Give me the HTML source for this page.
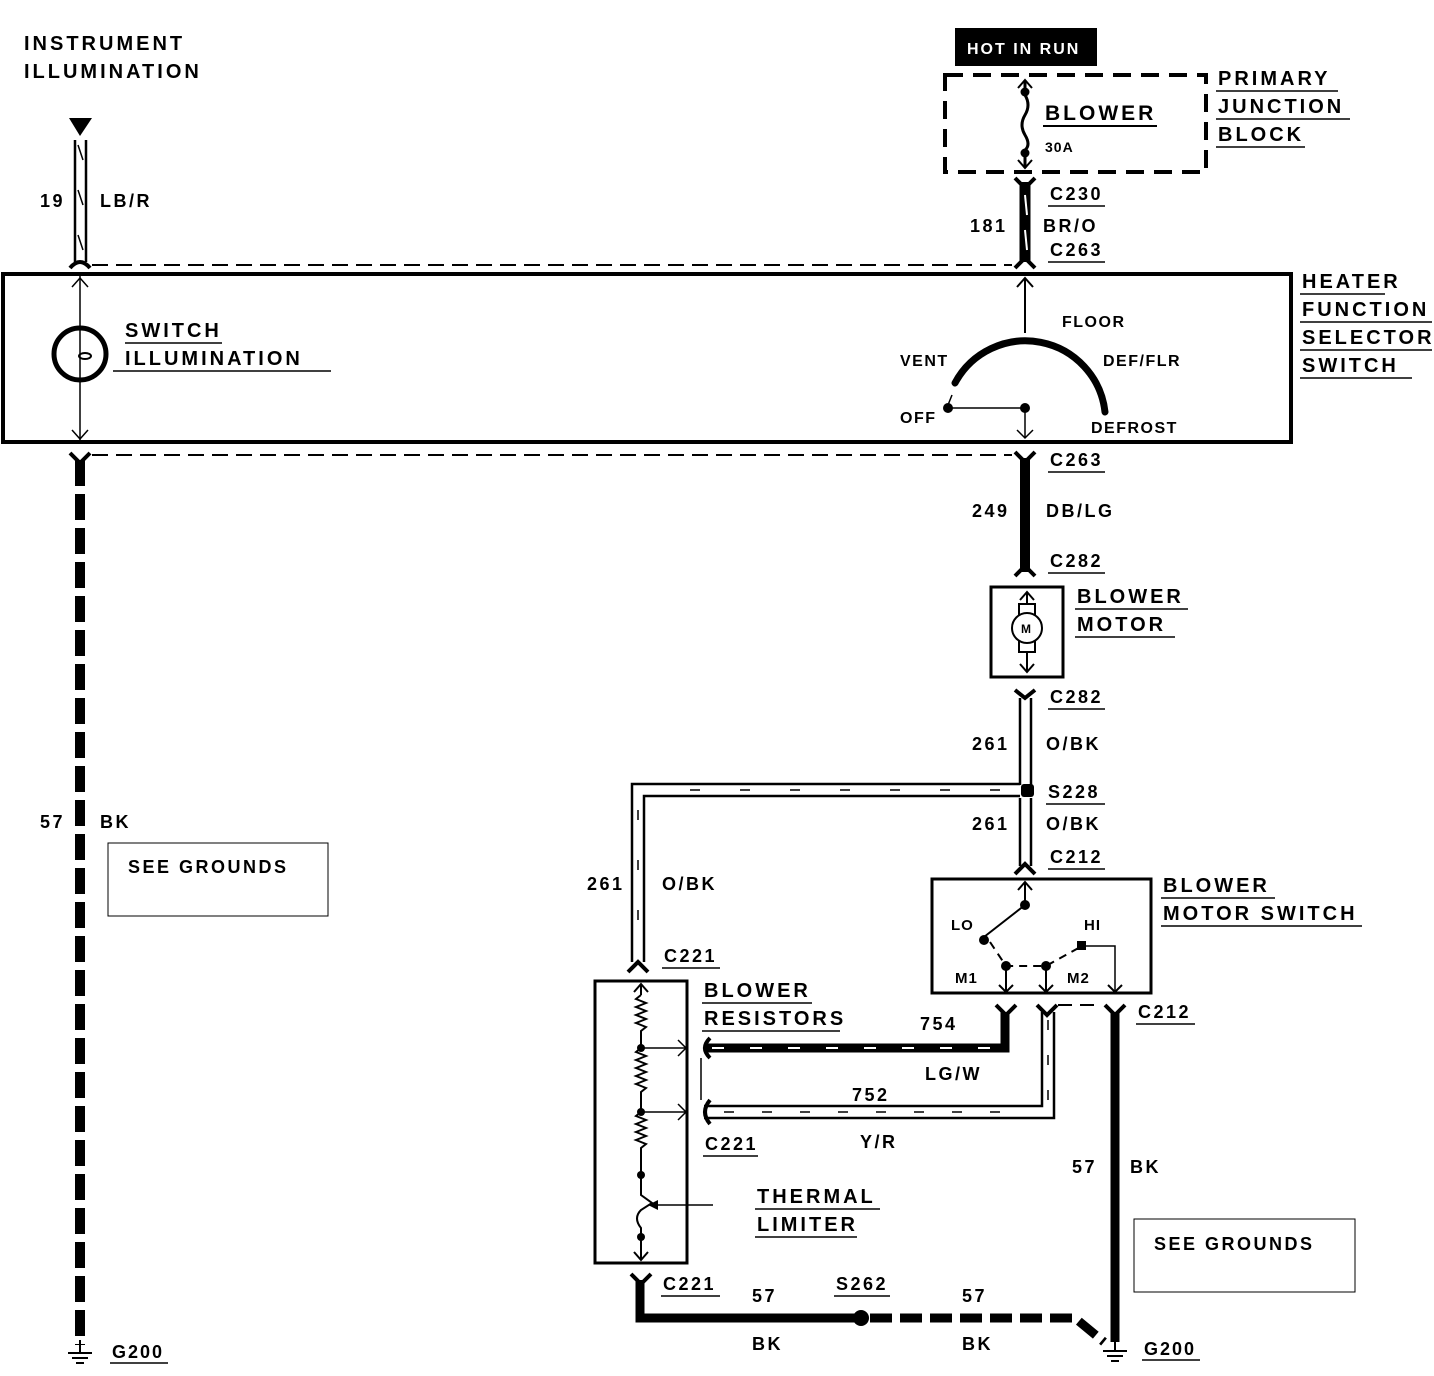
<!DOCTYPE html>
<html><head><style>
html,body{margin:0;padding:0;background:#fff}
svg{display:block}
text{font-family:"Liberation Sans",Arial,sans-serif;font-weight:bold;fill:#000}
</style></head><body>
<svg width="1434" height="1376" viewBox="0 0 1434 1376" xmlns="http://www.w3.org/2000/svg">
<g font-size="20" letter-spacing="3">
<text x="24" y="50">INSTRUMENT</text>
<text x="24" y="78">ILLUMINATION</text>
</g>
<polygon points="69,118 92,118 80,136" fill="#000"/>
<g stroke="#000" stroke-width="2.5" fill="none">
<line x1="75" y1="140" x2="75" y2="262"/><line x1="86" y1="140" x2="86" y2="262"/>
<line x1="78" y1="145" x2="83" y2="160" stroke-width="1.5"/>
<line x1="78" y1="190" x2="83" y2="205" stroke-width="1.5"/>
<line x1="78" y1="235" x2="83" y2="250" stroke-width="1.5"/>
<path d="M70,268 Q80,256 90,268" stroke-width="4"/>
</g>
<text x="40" y="207" font-size="18" letter-spacing="2.5">19</text><text x="100" y="207" font-size="18" letter-spacing="2.5">LB/R</text>
<line x1="92" y1="265" x2="1012" y2="265" stroke="#000" stroke-width="2" stroke-dasharray="16,8"/>
<line x1="92" y1="455" x2="1012" y2="455" stroke="#000" stroke-width="2" stroke-dasharray="16,8"/>
<rect x="3" y="274" width="1288" height="168" fill="none" stroke="#000" stroke-width="4"/>
<g stroke="#000" fill="none">
<line x1="80" y1="276" x2="80" y2="440" stroke-width="1.5"/>
<path d="M72,287 L80,278 L88,287 M72,430 L80,439 L88,430" stroke-width="1.5"/>
<circle cx="80" cy="354" r="26" stroke-width="5"/>
<ellipse cx="85" cy="356" rx="6" ry="3" stroke-width="2"/>
</g>
<g font-size="20" letter-spacing="3">
<text x="125" y="337">SWITCH</text><text x="125" y="365">ILLUMINATION</text>
</g>
<line x1="125" y1="343" x2="222" y2="343" stroke="#000" stroke-width="1.5"/>
<line x1="113" y1="371" x2="331" y2="371" stroke="#000" stroke-width="1.5"/>
<path d="M70,453 L80,463 L90,453" stroke="#000" stroke-width="4" fill="none"/>
<line x1="80" y1="460" x2="80" y2="1345" stroke="#000" stroke-width="10" stroke-dasharray="26,8"/>
<text x="40" y="828" font-size="18" letter-spacing="2.5">57</text><text x="100" y="828" font-size="18" letter-spacing="2.5">BK</text>
<rect x="108" y="843" width="220" height="73" fill="none" stroke="#000" stroke-width="1"/>
<text x="128" y="873" font-size="18" font-weight="normal" letter-spacing="2.5">SEE GROUNDS</text>
<g stroke="#000" stroke-width="2"><line x1="80" y1="1340" x2="80" y2="1352"/><line x1="68" y1="1353" x2="92" y2="1353"/><line x1="72" y1="1358" x2="88" y2="1358"/><line x1="76" y1="1363" x2="84" y2="1363"/></g>
<text x="112" y="1358" font-size="18" font-weight="normal" letter-spacing="2">G200</text>
<line x1="110" y1="1363" x2="168" y2="1363" stroke="#000" stroke-width="1.5"/>
<rect x="955" y="28" width="142" height="38" fill="#000"/>
<text x="967" y="54" font-size="16" style="fill:#fff" font-weight="normal" letter-spacing="2">HOT IN RUN</text>
<rect x="945" y="75" width="261" height="97" fill="none" stroke="#000" stroke-width="4" stroke-dasharray="18,10"/>
<g stroke="#000" fill="none" stroke-width="3">
<line x1="1025" y1="80" x2="1025" y2="95"/>
<path d="M1025,95 q6,10 0,20 q-6,10 0,20 q6,10 0,15"/>
<line x1="1025" y1="150" x2="1025" y2="168"/>
<path d="M1018,88 L1025,80 L1032,88 M1018,160 L1025,168 L1032,160" stroke-width="2"/>
</g>
<circle cx="1025" cy="92" r="4.5"/><circle cx="1025" cy="153" r="4.5"/>
<text x="1045" y="120" font-size="21" letter-spacing="3">BLOWER</text>
<line x1="1043" y1="126" x2="1157" y2="126" stroke="#000" stroke-width="2"/>
<text x="1045" y="152" font-size="14" font-weight="normal" letter-spacing="1">30A</text>
<g font-size="20" letter-spacing="3">
<text x="1218" y="85">PRIMARY</text><text x="1218" y="113">JUNCTION</text><text x="1218" y="141">BLOCK</text>
<text x="1302" y="288">HEATER</text><text x="1302" y="316">FUNCTION</text><text x="1302" y="344">SELECTOR</text><text x="1302" y="372">SWITCH</text>
</g>
<g stroke="#000" stroke-width="1.5">
<line x1="1216" y1="91" x2="1338" y2="91"/><line x1="1216" y1="119" x2="1350" y2="119"/><line x1="1216" y1="147" x2="1305" y2="147"/>
<line x1="1300" y1="294" x2="1385" y2="294"/><line x1="1300" y1="322" x2="1432" y2="322"/><line x1="1300" y1="350" x2="1432" y2="350"/><line x1="1300" y1="378" x2="1412" y2="378"/>
</g>
<g stroke="#000" fill="none">
<line x1="1025" y1="182" x2="1025" y2="262" stroke-width="11"/>
<path d="M1015,178 L1025,188 L1035,178 M1015,268 L1025,258 L1035,268" stroke-width="4"/>
</g>
<line x1="1025" y1="195" x2="1027" y2="215" stroke="#fff" stroke-width="2"/>
<line x1="1025" y1="230" x2="1027" y2="250" stroke="#fff" stroke-width="2"/>
<g font-size="18" letter-spacing="2.5">
<text x="970" y="232">181</text><text x="1043" y="232">BR/O</text>
<text x="1050" y="200">C230</text><text x="1050" y="256">C263</text>
<text x="1050" y="466">C263</text><text x="972" y="517">249</text><text x="1046" y="517">DB/LG</text><text x="1050" y="567">C282</text>
<text x="1050" y="703">C282</text><text x="972" y="750">261</text><text x="1046" y="750">O/BK</text>
<text x="1048" y="798">S228</text><text x="972" y="830">261</text><text x="1046" y="830">O/BK</text><text x="1050" y="863">C212</text>
<text x="587" y="890">261</text><text x="662" y="890">O/BK</text><text x="664" y="962">C221</text>
<text x="920" y="1030">754</text><text x="925" y="1080">LG/W</text><text x="852" y="1101">752</text><text x="860" y="1148">Y/R</text><text x="705" y="1150">C221</text>
<text x="1138" y="1018">C212</text><text x="1072" y="1173">57</text><text x="1130" y="1173">BK</text>
<text x="663" y="1290">C221</text><text x="752" y="1302">57</text><text x="836" y="1290">S262</text><text x="962" y="1302">57</text>
<text x="752" y="1350">BK</text><text x="962" y="1350">BK</text>
</g>
<g stroke="#000" stroke-width="1.5">
<line x1="1048" y1="206" x2="1105" y2="206"/><line x1="1048" y1="262" x2="1105" y2="262"/>
<line x1="1048" y1="472" x2="1105" y2="472"/><line x1="1048" y1="573" x2="1105" y2="573"/>
<line x1="1048" y1="709" x2="1105" y2="709"/><line x1="1046" y1="804" x2="1105" y2="804"/><line x1="1048" y1="869" x2="1105" y2="869"/>
<line x1="662" y1="968" x2="720" y2="968"/><line x1="703" y1="1156" x2="758" y2="1156"/><line x1="1136" y1="1024" x2="1195" y2="1024"/>
<line x1="661" y1="1296" x2="720" y2="1296"/><line x1="834" y1="1296" x2="890" y2="1296"/>
<line x1="1142" y1="1360" x2="1200" y2="1360"/>
</g>
<g stroke="#000" fill="none">
<line x1="1025" y1="278" x2="1025" y2="333" stroke-width="2"/>
<path d="M1017,287 L1025,278 L1033,287" stroke-width="2"/>
<path d="M955,383 A80,80 0 0 1 1105,412" stroke-width="7" stroke-linecap="round"/>
<line x1="952" y1="395" x2="948" y2="405" stroke-width="1.5"/>
<line x1="948" y1="408" x2="1025" y2="408" stroke-width="1.5"/>
<line x1="1025" y1="408" x2="1025" y2="438" stroke-width="1.5"/>
<path d="M1017,430 L1025,438 L1033,430" stroke-width="1.5"/>
</g>
<circle cx="948" cy="408" r="5"/><circle cx="1025" cy="408" r="5"/>
<g font-size="16" letter-spacing="1.5">
<text x="1062" y="327">FLOOR</text><text x="900" y="366">VENT</text><text x="1103" y="366">DEF/FLR</text>
<text x="900" y="423">OFF</text><text x="1091" y="433">DEFROST</text>
</g>
<g stroke="#000" fill="none">
<path d="M1015,452 L1025,462 L1035,452" stroke-width="4"/>
<line x1="1025" y1="458" x2="1025" y2="572" stroke-width="10"/>
<path d="M1015,576 L1025,566 L1035,576" stroke-width="4"/>
</g>
<rect x="991" y="587" width="72" height="90" fill="none" stroke="#000" stroke-width="3"/>
<g stroke="#000" fill="none" stroke-width="2">
<line x1="1027" y1="592" x2="1027" y2="672"/>
<path d="M1020,600 L1027,592 L1034,600 M1020,664 L1027,672 L1034,664"/>
<rect x="1019" y="604" width="16" height="48" fill="#fff"/>
<circle cx="1027" cy="628" r="15" fill="#fff"/>
</g>
<text x="1021" y="633" font-size="12" font-weight="normal">M</text>
<g font-size="20" letter-spacing="3"><text x="1077" y="603">BLOWER</text><text x="1077" y="631">MOTOR</text>
<text x="1163" y="892">BLOWER</text><text x="1163" y="920">MOTOR SWITCH</text>
<text x="704" y="997">BLOWER</text><text x="704" y="1025">RESISTORS</text>
<text x="757" y="1203">THERMAL</text><text x="757" y="1231">LIMITER</text></g>
<g stroke="#000" stroke-width="1.5">
<line x1="1075" y1="609" x2="1188" y2="609"/><line x1="1075" y1="637" x2="1175" y2="637"/>
<line x1="1161" y1="898" x2="1275" y2="898"/><line x1="1161" y1="926" x2="1362" y2="926"/>
<line x1="702" y1="1003" x2="812" y2="1003"/><line x1="702" y1="1031" x2="840" y2="1031"/>
<line x1="755" y1="1209" x2="880" y2="1209"/><line x1="755" y1="1237" x2="857" y2="1237"/>
</g>
<g stroke="#000" fill="none" stroke-width="2.5">
<path d="M1015,690 L1025,698 L1035,690" stroke-width="4"/>
<line x1="1020" y1="698" x2="1020" y2="785"/><line x1="1031" y1="698" x2="1031" y2="785"/>
<line x1="1020" y1="798" x2="1020" y2="866"/><line x1="1031" y1="798" x2="1031" y2="866"/>
<path d="M1015,874 L1025,864 L1035,874" stroke-width="4"/>
<path d="M1020,784 L632,784 L632,962 M1020,796 L644,796 L644,962"/>
<path d="M628,972 L638,962 L648,972" stroke-width="4"/>
</g>
<g stroke="#000" stroke-width="1.5" stroke-dasharray="10,40">
<line x1="1000" y1="790" x2="650" y2="790"/><line x1="638" y1="810" x2="638" y2="960"/>
</g>
<rect x="1021" y="784" width="13" height="13" rx="3" fill="#000"/>
<rect x="932" y="879" width="219" height="114" fill="none" stroke="#000" stroke-width="3"/>
<g stroke="#000" fill="none" stroke-width="2">
<line x1="1025" y1="882" x2="1025" y2="905"/>
<path d="M1018,890 L1025,882 L1032,890"/>
<line x1="1025" y1="905" x2="984" y2="937"/>
<line x1="1006" y1="966" x2="1006" y2="992"/><line x1="1046" y1="966" x2="1046" y2="992"/>
<path d="M999,985 L1006,992 L1013,985 M1039,985 L1046,992 L1053,985 M1108,985 L1115,992 L1122,985"/>
<path d="M1082,946 L1115,946 L1115,992" stroke-width="1.5"/>
<path d="M990,942 L1006,966 L1046,966 L1082,946" stroke-dasharray="8,6"/>
</g>
<circle cx="1025" cy="905" r="5"/><circle cx="984" cy="940" r="5"/><circle cx="1006" cy="966" r="5"/><circle cx="1046" cy="966" r="5"/><rect x="1077" y="941" width="9" height="9"/>
<g font-size="15" font-weight="normal" letter-spacing="1"><text x="951" y="930">LO</text><text x="1084" y="930">HI</text><text x="955" y="983">M1</text><text x="1067" y="983">M2</text></g>
<g stroke="#000" fill="none" stroke-width="4">
<path d="M996,1005 L1006,1015 L1016,1005 M1037,1005 L1047,1015 L1057,1005 M1105,1005 L1115,1015 L1125,1005"/>
<line x1="1058" y1="1005" x2="1100" y2="1005" stroke-width="2" stroke-dasharray="14,8"/>
</g>
<path d="M1005,1012 L1005,1048 L704,1048" stroke="#000" stroke-width="9" fill="none"/>
<line x1="990" y1="1048" x2="710" y2="1048" stroke="#fff" stroke-width="2" stroke-dasharray="12,26"/>
<g stroke="#000" fill="none" stroke-width="2.5">
<path d="M1042,1012 L1042,1106 L704,1106 M1054,1012 L1054,1118 L704,1118"/>
</g>
<line x1="1000" y1="1112" x2="710" y2="1112" stroke="#000" stroke-width="1.5" stroke-dasharray="10,28"/>
<line x1="1048" y1="1020" x2="1048" y2="1100" stroke="#000" stroke-width="1.5" stroke-dasharray="10,25"/>
<g stroke="#000" fill="none" stroke-width="4">
<path d="M710,1038 Q700,1048 710,1058 M710,1100 Q700,1112 710,1124"/>
</g>
<line x1="701" y1="1058" x2="701" y2="1100" stroke="#000" stroke-width="1.5"/>
<rect x="595" y="981" width="92" height="282" fill="none" stroke="#000" stroke-width="3"/>
<g stroke="#000" fill="none" stroke-width="2">
<line x1="641" y1="984" x2="641" y2="995"/>
<path d="M634,992 L641,984 L648,992"/>
<path d="M641,995 l-5,4 l10,4 l-10,4 l10,4 l-10,4 l10,4 l-10,4 l10,4 l-5,4 L641,1048"/>
<path d="M641,1048 l-5,4 l10,4 l-10,4 l10,4 l-10,4 l10,4 l-10,4 l10,4 l-10,4 l10,4 l-5,4 L641,1112"/>
<path d="M641,1112 l-5,4 l10,4 l-10,4 l10,4 l-10,4 l10,4 l-10,4 l10,4 l-5,4 L641,1180 L641,1195 L652,1203 L641,1210 q-8,8 0,18 L641,1260"/>
<path d="M634,1252 L641,1260 L648,1252"/>
<line x1="641" y1="1048" x2="686" y2="1048" stroke-width="1.5"/><path d="M678,1040 L686,1048 L678,1056" stroke-width="1.5"/>
<line x1="641" y1="1112" x2="686" y2="1112" stroke-width="1.5"/><path d="M678,1104 L686,1112 L678,1120" stroke-width="1.5"/>
<line x1="655" y1="1205" x2="713" y2="1205" stroke-width="1.5"/>
</g>
<circle cx="641" cy="1048" r="4"/><circle cx="641" cy="1112" r="4"/><circle cx="641" cy="1175" r="4"/><circle cx="641" cy="1237" r="4"/>
<polygon points="648,1205 658,1200 658,1210"/>
<path d="M631,1274 L641,1284 L651,1274" stroke="#000" stroke-width="4" fill="none"/>
<path d="M640,1280 L640,1318 L855,1318" stroke="#000" stroke-width="9" fill="none"/>
<circle cx="861" cy="1318" r="8"/>
<path d="M870,1318 L1075,1318 L1104,1342" stroke="#000" stroke-width="9" fill="none" stroke-dasharray="22,8"/>
<line x1="1115" y1="1012" x2="1115" y2="1342" stroke="#000" stroke-width="9"/>
<rect x="1134" y="1219" width="221" height="73" fill="none" stroke="#000" stroke-width="1"/>
<text x="1154" y="1250" font-size="18" font-weight="normal" letter-spacing="2.5">SEE GROUNDS</text>
<g stroke="#000" stroke-width="2"><line x1="1115" y1="1340" x2="1115" y2="1350"/><line x1="1103" y1="1351" x2="1127" y2="1351"/><line x1="1107" y1="1356" x2="1123" y2="1356"/><line x1="1111" y1="1361" x2="1119" y2="1361"/></g>
<text x="1144" y="1355" font-size="18" font-weight="normal" letter-spacing="2">G200</text>
</svg>
</body></html>
